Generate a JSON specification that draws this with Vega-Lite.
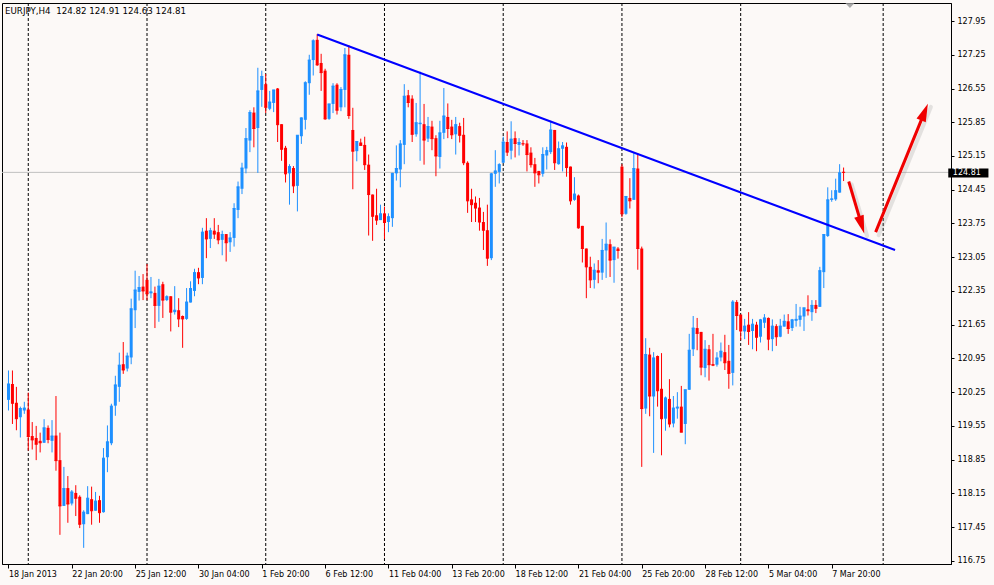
{
  "$schema": "https://vega.github.io/schema/vega-lite/v6.json",
  "width": 949,
  "height": 561,
  "autosize": {"type": "none"},
  "padding": {"left": 2, "top": 3, "right": 43, "bottom": 21},
  "background": "#fcf9f7",
  "title": {
    "text": "EURJPY,H4\u00a0 124.82 124.91 124.63 124.81",
    "anchor": "start",
    "frame": "group",
    "baseline": "top",
    "offset": -13,
    "dx": 3
  },
  "resolve": {"axis": {"x": "independent", "y": "independent"}},
  "datasets": {
    "bars": [
      {"i":0,"o":120.09,"h":120.70,"l":119.87,"c":120.42},
      {"i":1,"o":120.42,"h":120.70,"l":119.59,"c":120.02},
      {"i":2,"o":120.03,"h":120.36,"l":119.46,"c":119.70},
      {"i":3,"o":119.73,"h":119.95,"l":119.31,"c":119.91},
      {"i":4,"o":119.87,"h":120.05,"l":119.80,"c":119.92},
      {"i":5,"o":119.89,"h":120.24,"l":119.04,"c":119.33},
      {"i":6,"o":119.34,"h":119.63,"l":119.06,"c":119.26},
      {"i":7,"o":119.30,"h":119.55,"l":118.84,"c":119.17},
      {"i":8,"o":119.24,"h":119.41,"l":119.00,"c":119.20},
      {"i":9,"o":119.20,"h":119.69,"l":119.20,"c":119.51},
      {"i":10,"o":119.51,"h":119.56,"l":119.19,"c":119.27},
      {"i":11,"o":119.24,"h":119.67,"l":119.00,"c":119.34},
      {"i":12,"o":119.35,"h":120.17,"l":118.62,"c":118.83},
      {"i":13,"o":118.84,"h":119.41,"l":117.29,"c":117.89},
      {"i":14,"o":117.89,"h":118.70,"l":117.89,"c":118.25},
      {"i":15,"o":118.26,"h":118.51,"l":117.54,"c":117.93},
      {"i":16,"o":117.94,"h":118.22,"l":117.90,"c":118.18},
      {"i":17,"o":118.16,"h":118.32,"l":117.68,"c":118.05},
      {"i":18,"o":118.08,"h":118.11,"l":117.43,"c":117.51},
      {"i":19,"o":117.51,"h":117.80,"l":117.02,"c":117.76},
      {"i":20,"o":117.72,"h":118.30,"l":117.72,"c":118.05},
      {"i":21,"o":118.03,"h":118.29,"l":117.50,"c":117.79},
      {"i":22,"o":117.79,"h":118.18,"l":117.79,"c":117.99},
      {"i":23,"o":118.01,"h":118.10,"l":117.54,"c":117.75},
      {"i":24,"o":117.76,"h":119.09,"l":117.75,"c":118.88},
      {"i":25,"o":118.90,"h":119.56,"l":118.59,"c":119.22},
      {"i":26,"o":119.19,"h":120.01,"l":119.15,"c":119.96},
      {"i":27,"o":119.97,"h":120.59,"l":119.76,"c":120.40},
      {"i":28,"o":120.36,"h":121.07,"l":120.05,"c":120.81},
      {"i":29,"o":120.83,"h":121.29,"l":120.63,"c":120.71},
      {"i":30,"o":120.74,"h":121.07,"l":120.68,"c":121.00},
      {"i":31,"o":120.97,"h":122.19,"l":120.83,"c":121.98},
      {"i":32,"o":121.95,"h":122.77,"l":121.58,"c":122.37},
      {"i":33,"o":122.33,"h":122.66,"l":122.15,"c":122.42},
      {"i":34,"o":122.44,"h":122.70,"l":122.16,"c":122.35},
      {"i":35,"o":122.58,"h":122.91,"l":122.16,"c":122.29},
      {"i":36,"o":122.30,"h":122.64,"l":122.20,"c":122.33},
      {"i":37,"o":122.31,"h":122.44,"l":121.58,"c":122.05},
      {"i":38,"o":122.04,"h":122.60,"l":121.71,"c":122.45},
      {"i":39,"o":122.49,"h":122.54,"l":121.79,"c":122.16},
      {"i":40,"o":122.16,"h":122.26,"l":122.14,"c":122.23},
      {"i":41,"o":122.24,"h":122.24,"l":121.51,"c":121.91},
      {"i":42,"o":121.91,"h":122.45,"l":121.86,"c":121.95},
      {"i":43,"o":121.95,"h":122.20,"l":121.60,"c":121.77},
      {"i":44,"o":121.83,"h":121.84,"l":121.17,"c":121.77},
      {"i":45,"o":121.77,"h":122.41,"l":121.75,"c":122.12},
      {"i":46,"o":122.11,"h":122.55,"l":122.11,"c":122.40},
      {"i":47,"o":122.35,"h":122.81,"l":122.24,"c":122.73},
      {"i":48,"o":122.74,"h":122.83,"l":122.49,"c":122.62},
      {"i":49,"o":122.62,"h":123.66,"l":122.49,"c":123.57},
      {"i":50,"o":123.60,"h":123.86,"l":123.03,"c":123.43},
      {"i":51,"o":123.43,"h":123.66,"l":123.24,"c":123.60},
      {"i":52,"o":123.60,"h":123.86,"l":123.43,"c":123.53},
      {"i":53,"o":123.57,"h":123.72,"l":123.32,"c":123.41},
      {"i":54,"o":123.41,"h":123.60,"l":123.09,"c":123.52},
      {"i":55,"o":123.53,"h":123.53,"l":122.96,"c":123.35},
      {"i":56,"o":123.36,"h":123.57,"l":123.16,"c":123.45},
      {"i":57,"o":123.45,"h":124.17,"l":123.27,"c":124.06},
      {"i":58,"o":124.03,"h":124.62,"l":123.86,"c":124.51},
      {"i":59,"o":124.47,"h":125.01,"l":124.36,"c":124.90},
      {"i":60,"o":124.89,"h":125.73,"l":124.79,"c":125.51},
      {"i":61,"o":125.47,"h":126.10,"l":125.23,"c":126.05},
      {"i":62,"o":126.05,"h":126.16,"l":125.33,"c":125.72},
      {"i":63,"o":125.73,"h":126.98,"l":124.80,"c":126.50},
      {"i":64,"o":126.52,"h":126.92,"l":126.17,"c":126.80},
      {"i":65,"o":126.64,"h":126.85,"l":126.04,"c":126.16},
      {"i":66,"o":126.13,"h":126.50,"l":126.10,"c":126.27},
      {"i":67,"o":126.25,"h":126.52,"l":126.06,"c":126.52},
      {"i":68,"o":126.55,"h":126.56,"l":125.44,"c":125.80},
      {"i":69,"o":125.81,"h":125.81,"l":125.05,"c":125.29},
      {"i":70,"o":125.32,"h":125.36,"l":124.60,"c":124.78},
      {"i":71,"o":124.79,"h":124.98,"l":124.14,"c":124.93},
      {"i":72,"o":124.90,"h":124.94,"l":124.38,"c":124.53},
      {"i":73,"o":124.53,"h":125.58,"l":124.00,"c":125.58},
      {"i":74,"o":125.56,"h":125.95,"l":125.40,"c":125.94},
      {"i":75,"o":125.90,"h":126.70,"l":125.70,"c":126.67},
      {"i":76,"o":126.66,"h":127.25,"l":126.42,"c":127.14},
      {"i":77,"o":127.14,"h":127.57,"l":126.82,"c":127.54},
      {"i":78,"o":127.56,"h":127.68,"l":127.02,"c":127.04},
      {"i":79,"o":127.08,"h":127.27,"l":126.50,"c":126.88},
      {"i":80,"o":126.92,"h":126.96,"l":125.90,"c":125.92},
      {"i":81,"o":125.92,"h":126.23,"l":125.90,"c":126.23},
      {"i":82,"o":126.23,"h":126.66,"l":126.04,"c":126.60},
      {"i":83,"o":126.63,"h":126.66,"l":126.01,"c":126.10},
      {"i":84,"o":126.16,"h":126.58,"l":126.08,"c":126.53},
      {"i":85,"o":126.52,"h":127.39,"l":126.16,"c":127.25},
      {"i":86,"o":127.25,"h":127.45,"l":125.92,"c":125.99},
      {"i":87,"o":125.69,"h":126.15,"l":124.46,"c":125.25},
      {"i":88,"o":125.25,"h":125.45,"l":125.04,"c":125.45},
      {"i":89,"o":125.43,"h":125.51,"l":125.37,"c":125.37},
      {"i":90,"o":125.38,"h":125.55,"l":124.86,"c":124.97},
      {"i":91,"o":124.97,"h":125.18,"l":123.50,"c":124.35},
      {"i":92,"o":124.35,"h":124.35,"l":123.39,"c":123.90},
      {"i":93,"o":123.92,"h":124.47,"l":123.72,"c":123.82},
      {"i":94,"o":123.82,"h":124.14,"l":123.82,"c":123.95},
      {"i":95,"o":123.96,"h":124.10,"l":123.42,"c":123.77},
      {"i":96,"o":123.78,"h":123.96,"l":123.57,"c":123.89},
      {"i":97,"o":123.86,"h":124.80,"l":123.68,"c":124.79},
      {"i":98,"o":124.79,"h":125.37,"l":124.64,"c":124.89},
      {"i":99,"o":124.87,"h":125.48,"l":124.50,"c":125.40},
      {"i":100,"o":125.38,"h":126.64,"l":124.98,"c":126.39},
      {"i":101,"o":126.41,"h":126.52,"l":126.16,"c":126.26},
      {"i":102,"o":126.34,"h":126.41,"l":125.44,"c":125.60},
      {"i":103,"o":125.60,"h":126.25,"l":125.55,"c":125.84},
      {"i":104,"o":125.81,"h":126.90,"l":125.05,"c":125.83},
      {"i":105,"o":125.81,"h":126.23,"l":124.97,"c":125.48},
      {"i":106,"o":125.51,"h":125.96,"l":125.44,"c":125.76},
      {"i":107,"o":125.76,"h":125.88,"l":125.27,"c":125.51},
      {"i":108,"o":125.52,"h":125.58,"l":124.73,"c":125.15},
      {"i":109,"o":125.13,"h":125.88,"l":124.89,"c":125.63},
      {"i":110,"o":125.63,"h":126.56,"l":125.50,"c":125.98},
      {"i":111,"o":125.96,"h":126.24,"l":125.52,"c":125.72},
      {"i":112,"o":125.76,"h":125.90,"l":125.50,"c":125.59},
      {"i":113,"o":125.60,"h":125.96,"l":125.18,"c":125.80},
      {"i":114,"o":125.77,"h":125.84,"l":125.43,"c":125.58},
      {"i":115,"o":125.59,"h":125.94,"l":124.96,"c":125.01},
      {"i":116,"o":125.01,"h":125.04,"l":123.97,"c":124.22},
      {"i":117,"o":124.25,"h":124.47,"l":123.78,"c":124.14},
      {"i":118,"o":124.18,"h":124.31,"l":123.78,"c":124.07},
      {"i":119,"o":124.08,"h":124.28,"l":123.60,"c":123.78},
      {"i":120,"o":123.78,"h":123.99,"l":123.20,"c":123.61},
      {"i":121,"o":123.61,"h":124.14,"l":122.87,"c":123.03},
      {"i":122,"o":123.03,"h":124.80,"l":122.99,"c":124.78},
      {"i":123,"o":124.78,"h":125.27,"l":124.51,"c":124.84},
      {"i":124,"o":124.82,"h":125.00,"l":124.58,"c":124.97},
      {"i":125,"o":125.01,"h":125.55,"l":125.00,"c":125.44},
      {"i":126,"o":125.44,"h":125.66,"l":125.15,"c":125.23},
      {"i":127,"o":125.26,"h":125.87,"l":125.08,"c":125.50},
      {"i":128,"o":125.52,"h":125.66,"l":125.12,"c":125.41},
      {"i":129,"o":125.38,"h":125.52,"l":125.16,"c":125.43},
      {"i":130,"o":125.41,"h":125.48,"l":125.36,"c":125.40},
      {"i":131,"o":125.41,"h":125.48,"l":124.83,"c":125.18},
      {"i":132,"o":125.22,"h":125.33,"l":124.91,"c":124.97},
      {"i":133,"o":124.98,"h":125.11,"l":124.51,"c":124.80},
      {"i":134,"o":124.84,"h":124.84,"l":124.58,"c":124.76},
      {"i":135,"o":124.78,"h":125.33,"l":124.72,"c":125.18},
      {"i":136,"o":125.16,"h":125.34,"l":124.87,"c":125.26},
      {"i":137,"o":125.23,"h":125.88,"l":125.19,"c":125.69},
      {"i":138,"o":125.69,"h":125.69,"l":124.86,"c":125.01},
      {"i":139,"o":124.98,"h":125.45,"l":124.97,"c":125.30},
      {"i":140,"o":125.30,"h":125.44,"l":124.83,"c":125.36},
      {"i":141,"o":125.34,"h":125.43,"l":124.72,"c":124.91},
      {"i":142,"o":124.93,"h":124.93,"l":124.14,"c":124.22},
      {"i":143,"o":124.24,"h":124.71,"l":124.22,"c":124.36},
      {"i":144,"o":124.33,"h":124.35,"l":123.64,"c":123.66},
      {"i":145,"o":123.70,"h":123.70,"l":122.94,"c":123.23},
      {"i":146,"o":123.23,"h":123.23,"l":122.20,"c":122.85},
      {"i":147,"o":122.85,"h":123.06,"l":122.41,"c":122.58},
      {"i":148,"o":122.58,"h":122.92,"l":122.40,"c":122.78},
      {"i":149,"o":122.78,"h":122.99,"l":122.51,"c":122.74},
      {"i":150,"o":122.73,"h":123.43,"l":122.58,"c":123.19},
      {"i":151,"o":123.19,"h":123.77,"l":122.62,"c":123.32},
      {"i":152,"o":123.32,"h":123.42,"l":122.64,"c":122.99},
      {"i":153,"o":122.99,"h":123.26,"l":122.52,"c":123.26},
      {"i":154,"o":123.23,"h":123.26,"l":123.02,"c":123.19},
      {"i":155,"o":124.93,"h":124.98,"l":123.88,"c":123.95},
      {"i":156,"o":123.95,"h":124.31,"l":123.93,"c":124.31},
      {"i":157,"o":124.28,"h":124.69,"l":124.06,"c":124.22},
      {"i":158,"o":124.24,"h":125.21,"l":124.24,"c":124.89},
      {"i":159,"o":124.89,"h":125.21,"l":122.79,"c":123.23},
      {"i":160,"o":123.23,"h":123.27,"l":118.70,"c":119.91},
      {"i":161,"o":119.91,"h":121.37,"l":119.80,"c":121.03},
      {"i":162,"o":121.03,"h":121.17,"l":119.75,"c":120.17},
      {"i":163,"o":120.16,"h":121.08,"l":118.99,"c":120.96},
      {"i":164,"o":121.00,"h":121.01,"l":119.95,"c":120.28},
      {"i":165,"o":120.32,"h":121.06,"l":118.94,"c":119.70},
      {"i":166,"o":119.70,"h":120.16,"l":119.45,"c":120.13},
      {"i":167,"o":120.11,"h":120.52,"l":119.52,"c":119.59},
      {"i":168,"o":119.60,"h":120.17,"l":119.52,"c":119.92},
      {"i":169,"o":119.91,"h":120.25,"l":119.70,"c":119.94},
      {"i":170,"o":119.95,"h":120.38,"l":119.42,"c":119.42},
      {"i":171,"o":119.59,"h":120.30,"l":119.17,"c":120.30},
      {"i":172,"o":120.30,"h":121.46,"l":120.30,"c":121.12},
      {"i":173,"o":121.14,"h":121.83,"l":121.00,"c":121.58},
      {"i":174,"o":121.58,"h":121.79,"l":121.12,"c":121.47},
      {"i":175,"o":121.50,"h":121.50,"l":120.60,"c":120.77},
      {"i":176,"o":120.75,"h":121.33,"l":120.56,"c":121.14},
      {"i":177,"o":121.14,"h":121.23,"l":120.49,"c":120.82},
      {"i":178,"o":120.83,"h":121.46,"l":120.79,"c":120.81},
      {"i":179,"o":120.82,"h":121.08,"l":120.78,"c":120.96},
      {"i":180,"o":120.97,"h":121.28,"l":120.89,"c":121.10},
      {"i":181,"o":121.08,"h":121.44,"l":120.71,"c":120.86},
      {"i":182,"o":120.90,"h":121.23,"l":120.32,"c":120.64},
      {"i":183,"o":120.65,"h":122.16,"l":120.39,"c":122.12},
      {"i":184,"o":122.12,"h":122.16,"l":121.54,"c":121.84},
      {"i":185,"o":121.86,"h":121.86,"l":121.33,"c":121.52},
      {"i":186,"o":121.51,"h":121.77,"l":121.35,"c":121.62},
      {"i":187,"o":121.65,"h":121.91,"l":121.23,"c":121.51},
      {"i":188,"o":121.52,"h":121.77,"l":121.14,"c":121.66},
      {"i":189,"o":121.65,"h":121.71,"l":121.10,"c":121.39},
      {"i":190,"o":121.40,"h":121.77,"l":121.28,"c":121.75},
      {"i":191,"o":121.69,"h":121.87,"l":121.58,"c":121.79},
      {"i":192,"o":121.79,"h":121.80,"l":121.12,"c":121.35},
      {"i":193,"o":121.35,"h":121.76,"l":121.10,"c":121.62},
      {"i":194,"o":121.62,"h":121.66,"l":121.21,"c":121.40},
      {"i":195,"o":121.40,"h":121.77,"l":121.39,"c":121.62},
      {"i":196,"o":121.61,"h":121.86,"l":121.61,"c":121.72},
      {"i":197,"o":121.72,"h":121.87,"l":121.46,"c":121.57},
      {"i":198,"o":121.58,"h":121.77,"l":121.52,"c":121.75},
      {"i":199,"o":121.73,"h":122.08,"l":121.61,"c":121.76},
      {"i":200,"o":121.75,"h":122.02,"l":121.61,"c":121.83},
      {"i":201,"o":121.82,"h":122.00,"l":121.52,"c":122.00},
      {"i":202,"o":121.97,"h":122.26,"l":121.84,"c":121.94},
      {"i":203,"o":121.91,"h":122.16,"l":121.73,"c":122.05},
      {"i":204,"o":122.06,"h":122.16,"l":121.89,"c":121.99},
      {"i":205,"o":122.02,"h":122.85,"l":122.02,"c":122.77},
      {"i":206,"o":122.74,"h":123.52,"l":122.41,"c":123.52},
      {"i":207,"o":123.49,"h":124.50,"l":123.47,"c":124.24},
      {"i":208,"o":124.24,"h":124.44,"l":124.20,"c":124.26},
      {"i":209,"o":124.25,"h":124.68,"l":124.22,"c":124.43},
      {"i":210,"o":124.39,"h":124.98,"l":124.39,"c":124.80},
      {"i":211,"o":124.82,"h":124.91,"l":124.63,"c":124.81}
    ],
    "grid": [{"i":5},{"i":35},{"i":65},{"i":95},{"i":125},{"i":155},{"i":185},{"i":221}],
    "trend": [{"i":78,"p":127.67},{"i":224,"p":123.20}],
    "arrows": [
      {"id":1,"i1":212.3,"p1":124.62,"i2":215.55,"p2":123.72,"it":216.2,"pt":123.55},
      {"id":2,"i1":219.1,"p1":123.57,"i2":231.45,"p2":126.06,"it":232.3,"pt":126.23}
    ]
  },
  "layer": [
    {
      "data": {"name": "grid"},
      "mark": {"type": "rule", "color": "#000000", "strokeWidth": 1, "strokeDash": [3, 2]},
      "encoding": {
        "x": {"field": "i", "type": "quantitative", "scale": {"domain": [-0.375, 236.875], "nice": false, "zero": false}, "axis": null}
      }
    },
    {
      "data": {"values": [{}]},
      "mark": {"type": "rule", "color": "#c0c0c0", "strokeWidth": 1},
      "encoding": {
        "y": {"datum": 124.81, "type": "quantitative", "scale": {"domain": [116.685, 128.324], "nice": false, "zero": false}, "axis": null}
      }
    },
    {
      "data": {"name": "bars"},
      "mark": {"type": "rule", "strokeWidth": 1},
      "encoding": {
        "x": {
          "field": "i", "type": "quantitative",
          "scale": {"domain": [-0.375, 236.875], "nice": false, "zero": false},
          "axis": {
            "title": null, "orient": "bottom", "grid": false,
            "values": [0, 16, 32, 48, 64, 80, 96, 112, 128, 144, 160, 176, 192, 208],
            "labelExpr": "['18 Jan 2013','22 Jan 20:00','25 Jan 12:00','30 Jan 04:00','1 Feb 20:00','6 Feb 12:00','11 Feb 04:00','13 Feb 20:00','18 Feb 12:00','21 Feb 04:00','25 Feb 20:00','28 Feb 12:00','5 Mar 04:00','7 Mar 20:00'][round(datum.value / 16)]",
            "labelAlign": "left", "labelBaseline": "top", "labelPadding": 2,
            "labelFlush": false, "labelOverlap": false, "labelBound": false,
            "tickSize": 4, "tickColor": "#000000", "domainColor": "#000000",
            "labelColor": "#000000", "labelFont": "DejaVu Sans", "labelFontSize": 8
          }
        },
        "y": {
          "field": "l", "type": "quantitative",
          "scale": {"domain": [116.685, 128.324], "nice": false, "zero": false},
          "axis": {
            "title": null, "orient": "right", "grid": false,
            "values": [127.95, 127.25, 126.55, 125.85, 125.15, 124.45, 123.75, 123.05, 122.35, 121.65, 120.95, 120.25, 119.55, 118.85, 118.15, 117.45, 116.75],
            "format": ".2f", "labelBaseline": "middle", "labelPadding": 3,
            "labelFlush": false, "labelOverlap": false, "labelBound": false,
            "tickSize": 3, "tickColor": "#000000", "domainColor": "#000000",
            "labelColor": "#000000", "labelFont": "DejaVu Sans", "labelFontSize": 8
          }
        },
        "y2": {"field": "h"},
        "color": {"condition": {"test": "datum.c >= datum.o", "value": "#1e90ff"}, "value": "#ff0000"}
      }
    },
    {
      "data": {"name": "bars"},
      "mark": {"type": "bar", "size": 3, "orient": "vertical"},
      "encoding": {
        "x": {"field": "i", "type": "quantitative", "scale": {"domain": [-0.375, 236.875], "nice": false, "zero": false}, "axis": null},
        "y": {"field": "o", "type": "quantitative", "scale": {"domain": [116.685, 128.324], "nice": false, "zero": false}, "axis": null},
        "y2": {"field": "c"},
        "color": {"condition": {"test": "datum.c >= datum.o", "value": "#1e90ff"}, "value": "#ff0000"}
      }
    },
    {
      "data": {"name": "bars"},
      "mark": {"type": "rule", "strokeWidth": 1, "xOffset": -1.5, "x2Offset": 1.5},
      "encoding": {
        "x": {"field": "i", "type": "quantitative", "scale": {"domain": [-0.375, 236.875], "nice": false, "zero": false}, "axis": null},
        "x2": {"field": "i"},
        "y": {"field": "c", "type": "quantitative", "scale": {"domain": [116.685, 128.324], "nice": false, "zero": false}, "axis": null},
        "color": {"condition": {"test": "datum.c >= datum.o", "value": "#1e90ff"}, "value": "#ff0000"}
      }
    },
    {
      "data": {"name": "trend"},
      "mark": {"type": "line", "color": "#0000ff", "strokeWidth": 2},
      "encoding": {
        "x": {"field": "i", "type": "quantitative", "scale": {"domain": [-0.375, 236.875], "nice": false, "zero": false}, "axis": null},
        "y": {"field": "p", "type": "quantitative", "scale": {"domain": [116.685, 128.324], "nice": false, "zero": false}, "axis": null}
      }
    },
    {
      "data": {"name": "arrows"},
      "mark": {"type": "rule", "color": "#808080", "opacity": 0.2, "strokeWidth": 4, "strokeCap": "round", "xOffset": 3, "x2Offset": 3, "yOffset": 3, "y2Offset": 3},
      "encoding": {
        "x": {"field": "i1", "type": "quantitative", "scale": {"domain": [-0.375, 236.875], "nice": false, "zero": false}, "axis": null},
        "y": {"field": "p1", "type": "quantitative", "scale": {"domain": [116.685, 128.324], "nice": false, "zero": false}, "axis": null},
        "x2": {"field": "it"},
        "y2": {"field": "pt"}
      }
    },
    {
      "data": {"name": "arrows"},
      "mark": {"type": "rule", "color": "#f00000", "strokeWidth": 3},
      "encoding": {
        "x": {"field": "i1", "type": "quantitative", "scale": {"domain": [-0.375, 236.875], "nice": false, "zero": false}, "axis": null},
        "y": {"field": "p1", "type": "quantitative", "scale": {"domain": [116.685, 128.324], "nice": false, "zero": false}, "axis": null},
        "x2": {"field": "i2"},
        "y2": {"field": "p2"}
      }
    },
    {
      "data": {"name": "arrows"},
      "transform": [{"filter": "datum.id == 1"}],
      "mark": {"type": "point", "filled": true, "color": "#f00000", "opacity": 1, "shape": "M0,-1L0.55,1L-0.55,1Z", "size": 324, "angle": 163},
      "encoding": {
        "x": {"field": "i2", "type": "quantitative", "scale": {"domain": [-0.375, 236.875], "nice": false, "zero": false}, "axis": null},
        "y": {"field": "p2", "type": "quantitative", "scale": {"domain": [116.685, 128.324], "nice": false, "zero": false}, "axis": null}
      }
    },
    {
      "data": {"name": "arrows"},
      "transform": [{"filter": "datum.id == 2"}],
      "mark": {"type": "point", "filled": true, "color": "#f00000", "opacity": 1, "shape": "M0,-1L0.55,1L-0.55,1Z", "size": 324, "angle": 22},
      "encoding": {
        "x": {"field": "i2", "type": "quantitative", "scale": {"domain": [-0.375, 236.875], "nice": false, "zero": false}, "axis": null},
        "y": {"field": "p2", "type": "quantitative", "scale": {"domain": [116.685, 128.324], "nice": false, "zero": false}, "axis": null}
      }
    },
    {
      "data": {"values": [{}]},
      "mark": {"type": "point", "filled": true, "color": "#a9a9a9", "opacity": 1, "shape": "M-1,-0.55L1,-0.55L0,0.55Z", "size": 81},
      "encoding": {
        "x": {"datum": 212.6, "type": "quantitative", "scale": {"domain": [-0.375, 236.875], "nice": false, "zero": false}, "axis": null},
        "y": {"datum": 128.27, "type": "quantitative", "scale": {"domain": [116.685, 128.324], "nice": false, "zero": false}, "axis": null}
      }
    },
    {
      "data": {"values": [{}]},
      "mark": {"type": "rect", "color": "#000000"},
      "encoding": {
        "x": {"datum": 237.45, "type": "quantitative", "scale": {"domain": [-0.375, 236.875], "nice": false, "zero": false}, "axis": null},
        "x2": {"datum": 247.6},
        "y": {"datum": 124.704, "type": "quantitative", "scale": {"domain": [116.685, 128.324], "nice": false, "zero": false}, "axis": null},
        "y2": {"datum": 124.89}
      }
    },
    {
      "data": {"values": [{"t": "124.81"}]},
      "mark": {"type": "text", "color": "#ffffff", "font": "DejaVu Sans", "fontSize": 8, "align": "left", "baseline": "middle"},
      "encoding": {
        "x": {"datum": 238.6, "type": "quantitative", "scale": {"domain": [-0.375, 236.875], "nice": false, "zero": false}, "axis": null},
        "y": {"datum": 124.80, "type": "quantitative", "scale": {"domain": [116.685, 128.324], "nice": false, "zero": false}, "axis": null},
        "text": {"field": "t"}
      }
    }
  ],
  "config": {
    "view": {"stroke": "#000000", "strokeWidth": 1, "fill": "#fcf9f7"},
    "title": {"font": "DejaVu Sans", "fontSize": 8.7, "fontWeight": "normal", "color": "#000000"}
  }
}
